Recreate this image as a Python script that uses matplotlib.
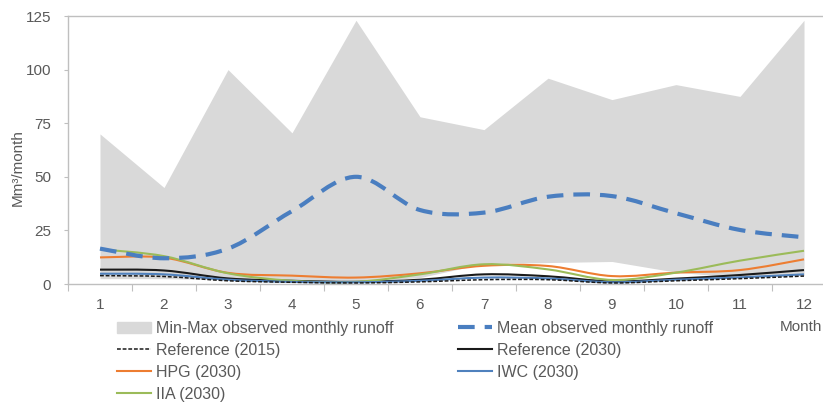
import matplotlib
matplotlib.use('Agg')
import matplotlib.pyplot as plt
from matplotlib.path import Path
from matplotlib.patches import PathPatch
import matplotlib.patches as mpatches
import numpy as np

# ── monthly runoff (Mm³/month) ────────────────────────────────────────────────
months = [1, 2, 3, 4, 5, 6, 7, 8, 9, 10, 11, 12]
obs_min = [2.5, 2.5, 2.0, 1.0, 1.0, 3.0, 9.5, 10.0, 10.5, 5.5, 3.0, 4.0]
obs_max = [70, 45, 100, 70.5, 123, 78, 72, 96, 86, 93, 87.5, 123]
obs_mean = [16.5, 12.0, 16.5, 34.0, 50.0, 34.5, 33.3, 40.7, 41.0, 33.0, 25.2, 21.8]
ref_2015 = [3.9, 3.5, 1.5, 0.8, 0.5, 1.0, 2.0, 2.0, 0.5, 1.5, 2.5, 3.7]
ref_2030 = [6.7, 6.3, 2.6, 1.5, 1.0, 2.0, 4.5, 3.6, 1.2, 2.5, 4.2, 6.5]
iwc_2030 = [4.8, 4.5, 2.0, 1.0, 0.8, 1.5, 3.0, 2.6, 0.8, 2.0, 3.1, 4.5]
hpg_2030 = [12.4, 12.3, 5.2, 3.9, 3.0, 5.0, 8.5, 8.4, 3.7, 5.3, 6.5, 11.5]
iia_2030 = [16.2, 13.0, 5.0, 1.5, 1.0, 4.5, 9.2, 6.8, 1.9, 5.3, 10.9, 15.5]

GREY_TXT = '#595959'
AXIS_CLR = '#BFBFBF'

plt.rcParams['font.family'] = ['Liberation Sans', 'DejaVu Sans']


def smooth_path(x, y):
    """Bezier path through the points, Excel-style smoothed line."""
    pts = np.column_stack([x, y]).astype(float)
    n = len(pts)
    verts = [pts[0]]
    codes = [Path.MOVETO]
    for i in range(n - 1):
        p0 = pts[max(i - 1, 0)]
        p1 = pts[i]
        p2 = pts[i + 1]
        p3 = pts[min(i + 2, n - 1)]
        verts += [p1 + (p2 - p0) / 6, p2 - (p3 - p1) / 6, p2]
        codes += [Path.CURVE4] * 3
    return Path(verts, codes)


fig = plt.figure(figsize=(8.23, 4.03), dpi=100)
ax = fig.add_axes([68 / 823, 1 - 284 / 403, 768 / 823, 268 / 403])

ax.fill_between(months, obs_min, obs_max, color='#D9D9D9', linewidth=0, zorder=1)

series = [
    (obs_mean, dict(color='#4A7EC0', lw=3.0, ls=(0, (4, 2.4)))),
    (ref_2015, dict(color='#1A1A1A', lw=1.1, ls=(0, (2.5, 1.2)))),
    (ref_2030, dict(color='#1A1A1A', lw=1.5, ls='-')),
    (iwc_2030, dict(color='#4F81BD', lw=1.5, ls='-')),
    (hpg_2030, dict(color='#ED7D31', lw=1.5, ls='-')),
    (iia_2030, dict(color='#9BBB59', lw=1.5, ls='-')),
]
z = {0: 6, 1: 5, 2: 3, 3: 4, 4: 3, 5: 3}
for k, (vals, st) in enumerate(series):
    ax.add_patch(PathPatch(smooth_path(months, vals), fill=False,
                           edgecolor=st['color'], linewidth=st['lw'],
                           linestyle=st['ls'], capstyle='butt', zorder=z[k]))

ax.set_xlim(0.5, 12.5)
ax.set_ylim(0, 125)

# category axis: tick marks between months, labels on months
ax.set_xticks(np.arange(0.5, 13, 1))
ax.set_xticklabels([])
ax.set_xticks(months, minor=True)
ax.set_xticklabels([str(m) for m in months], minor=True)
ax.tick_params(axis='x', which='major', length=5, color=AXIS_CLR, direction='out')
ax.tick_params(axis='x', which='minor', length=0, pad=10, labelsize=11, labelcolor=GREY_TXT)

ax.set_yticks([0, 25, 50, 75, 100, 125])
ax.tick_params(axis='y', length=3, color=AXIS_CLR, pad=9, labelsize=11, labelcolor=GREY_TXT)

for side in ['left', 'bottom', 'top']:
    ax.spines[side].set_color(AXIS_CLR)
    ax.spines[side].set_linewidth(1.0)
ax.spines['right'].set_visible(False)

fig.text(18 / 823, 1 - 168 / 403, 'Mm³/month', rotation=90, ha='center', va='center',
         fontsize=11, color=GREY_TXT)
fig.text(822 / 823, 1 - 327 / 403, 'Month', ha='right', va='center',
         fontsize=11, color=GREY_TXT)

# legend in two columns
def line_handle(vals_idx, label):
    st = series[vals_idx][1]
    return plt.Line2D([0], [0], color=st['color'], lw=st['lw'], ls=st['ls'], label=label)

left_handles = [
    mpatches.Patch(color='#D9D9D9', label='Min-Max observed monthly runoff'),
    line_handle(1, 'Reference (2015)'),
    line_handle(4, 'HPG (2030)'),
    line_handle(5, 'IIA (2030)'),
]
right_handles = [
    line_handle(0, 'Mean observed monthly runoff'),
    line_handle(2, 'Reference (2030)'),
    line_handle(3, 'IWC (2030)'),
]
leg_kw = dict(loc='upper left', frameon=False, fontsize=11.5, handlelength=2.1,
              handletextpad=0.35, labelspacing=0.43, borderpad=0, borderaxespad=0,
              labelcolor=GREY_TXT)
fig.legend(handles=left_handles, bbox_to_anchor=(117 / 823, 1 - 321 / 403), **leg_kw)
fig.legend(handles=right_handles, bbox_to_anchor=(458 / 823, 1 - 321 / 403), **leg_kw)

fig.savefig('out.png', dpi=100, facecolor='white')
